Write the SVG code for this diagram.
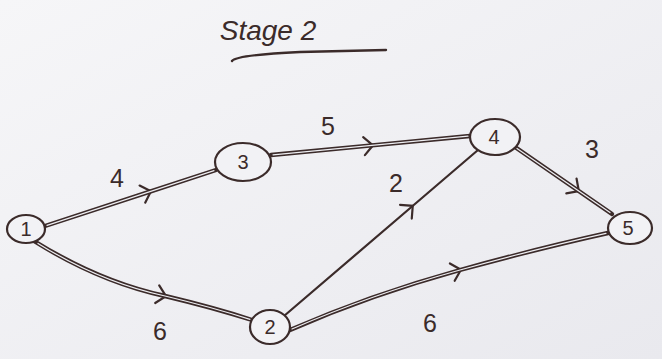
<svg xmlns="http://www.w3.org/2000/svg" width="662" height="359" viewBox="0 0 662 359">
<defs>
<linearGradient id="bg" x1="0" y1="0" x2="1" y2="1">
<stop offset="0" stop-color="#f6f6f8"/>
<stop offset="1" stop-color="#e9e9ee"/>
</linearGradient>
<marker id="chev" markerWidth="24" markerHeight="24" refX="0" refY="0" viewBox="-12 -12 24 24" orient="auto" markerUnits="userSpaceOnUse">
<path d="M-8,-9 L1,0 L-8,9" fill="none" stroke="#3b2b2a" stroke-width="2.2" stroke-linecap="round"/>
</marker>
</defs>
<style>
.ink{fill:none;stroke:#3b2b2a;stroke-linecap:round;stroke-linejoin:round}
.dbl{stroke-width:4.4}
.gap{fill:none;stroke:#eeeef2;stroke-width:1.2;stroke-linecap:round}
.node{fill:#f2f2f5;stroke:#3b2b2a;stroke-width:2.2}
.t{font-family:"Liberation Sans",Arial,sans-serif;fill:#3b2b2a;text-anchor:middle}
.lbl{font-size:25px}
.nl{font-size:20px}
</style>
<rect width="662" height="359" fill="url(#bg)"/>
<g id="title">
<text class="t" x="268" y="40" font-size="28" font-style="italic">Stage 2</text>
<path class="ink" stroke-width="2.4" d="M232,61 Q236,55 300,52 L386,50"/>
</g>
<g id="connectors">
<g id="e13">
<path class="ink dbl" d="M45,226 L150,191.6 L216,170" marker-mid="url(#chev)"/>
<path class="gap" d="M47,225.4 L214,170.6"/>
<text class="t lbl" x="117" y="187">4</text>
</g>
<g id="e34">
<path class="ink dbl" d="M271,155 L372,145.4 L470,136" marker-mid="url(#chev)"/>
<path class="gap" d="M273,154.8 L468,136.2"/>
<text class="t lbl" x="328" y="135">5</text>
</g>
<g id="e12">
<path class="ink dbl" d="M34,241 Q100,282 165,296 Q215,308 252,320" marker-mid="url(#chev)"/>
<path class="gap" d="M38,243.4 Q100,282 165,296 Q215,308 250,319.4"/>
<text class="t lbl" x="160" y="340">6</text>
</g>
<g id="e24">
<path class="ink" stroke-width="2.2" d="M284,316 L412,206.5 L478,150" marker-mid="url(#chev)"/>
<text class="t lbl" x="396" y="192">2</text>
</g>
<g id="e45">
<path class="ink dbl" d="M515,147 L578,190.5 L612,214" marker-mid="url(#chev)"/>
<path class="gap" d="M517,148.4 L610,212.6"/>
<text class="t lbl" x="592" y="158">3</text>
</g>
<g id="e25">
<path class="ink dbl" d="M290,330 Q370,295 460,270 Q540,248 608,233" marker-mid="url(#chev)"/>
<path class="gap" d="M292,329 Q370,295 460,270 Q540,248 606,233.4"/>
<text class="t lbl" x="430" y="332">6</text>
</g>
</g>
<g id="n1">
<ellipse class="node" cx="26" cy="229" rx="19" ry="14"/>
<text class="t nl" x="26" y="236">1</text>
</g>
<g id="n3">
<ellipse class="node" cx="243" cy="162" rx="28" ry="19"/>
<text class="t nl" x="243" y="169">3</text>
</g>
<g id="n4">
<ellipse class="node" cx="495" cy="137" rx="25" ry="18"/>
<text class="t nl" x="494" y="144">4</text>
</g>
<g id="n5">
<ellipse class="node" cx="630" cy="228" rx="22" ry="16"/>
<text class="t nl" x="628" y="235">5</text>
</g>
<g id="n2">
<ellipse class="node" cx="270" cy="327" rx="20" ry="17"/>
<text class="t nl" x="270" y="334">2</text>
</g>
</svg>
